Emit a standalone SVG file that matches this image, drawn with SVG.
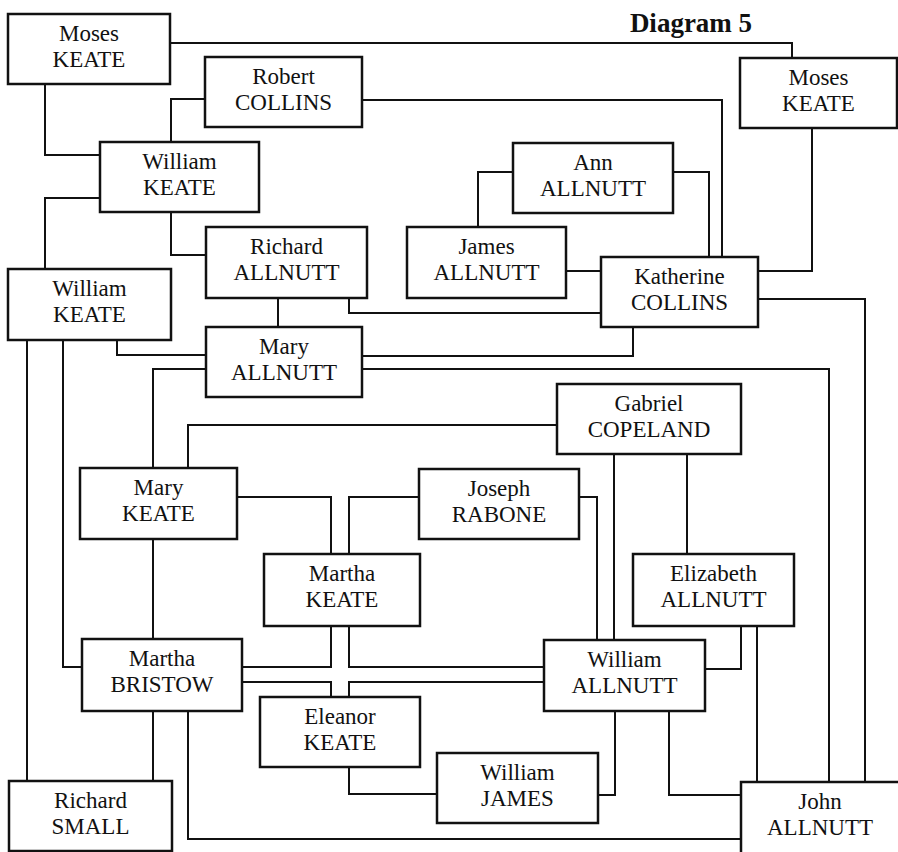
<svg xmlns="http://www.w3.org/2000/svg" width="898" height="852" viewBox="0 0 898 852">
<style>
.box{fill:#fff;stroke:#111;stroke-width:2.5}
.c{fill:none;stroke:#111;stroke-width:2}
text{font-family:"Liberation Serif","Times New Roman",serif;font-size:23px;fill:#111;text-anchor:middle}
.title{font-weight:bold;font-size:27px}
</style>
<rect width="898" height="852" fill="#fff"/>
<text class="title" x="691" y="32">Diagram 5</text>
<g id="connectors">
<polyline class="c" points="170,43 792,43 792,58"/>
<polyline class="c" points="45,84 45,155 100,155"/>
<polyline class="c" points="205,99 171,99 171,142"/>
<polyline class="c" points="362,100 722,100 722,257"/>
<polyline class="c" points="100,198 45,198 45,269"/>
<polyline class="c" points="171,212 171,255 206,255"/>
<polyline class="c" points="513,172 478,172 478,227"/>
<polyline class="c" points="673,172 709,172 709,257"/>
<polyline class="c" points="812,128 812,271 758,271"/>
<polyline class="c" points="566,271 601,271"/>
<polyline class="c" points="278,298 278,327"/>
<polyline class="c" points="349,298 349,313 601,313"/>
<polyline class="c" points="117,340 117,355 206,355"/>
<polyline class="c" points="362,356 633,356 633,327"/>
<polyline class="c" points="362,369 829,369 829,782"/>
<polyline class="c" points="206,369 153,369 153,468"/>
<polyline class="c" points="27,340 27,781"/>
<polyline class="c" points="63,340 63,667 82,667"/>
<polyline class="c" points="758,299 865,299 865,782"/>
<polyline class="c" points="557,425 188,425 188,468"/>
<polyline class="c" points="237,497 331,497 331,554"/>
<polyline class="c" points="419,497 349,497 349,554"/>
<polyline class="c" points="153,539 153,639"/>
<polyline class="c" points="331,626 331,667 242,667"/>
<polyline class="c" points="349,626 349,667 544,667"/>
<polyline class="c" points="242,682 331,682 331,697"/>
<polyline class="c" points="349,697 349,682 544,682"/>
<polyline class="c" points="579,497 597,497 597,640"/>
<polyline class="c" points="614,454 614,640"/>
<polyline class="c" points="687,454 687,554"/>
<polyline class="c" points="741,626 741,669 705,669"/>
<polyline class="c" points="757,626 757,782"/>
<polyline class="c" points="615,711 615,795 598,795"/>
<polyline class="c" points="669,711 669,795 741,795"/>
<polyline class="c" points="349,767 349,794 437,794"/>
<polyline class="c" points="153,711 153,781"/>
<polyline class="c" points="188,711 188,839 741,839"/>
</g>
<g id="moses-keate-1"><rect class="box" x="8" y="14" width="162" height="70"/><text x="89" y="41">Moses</text><text x="89" y="67">KEATE</text></g>
<g id="robert-collins"><rect class="box" x="205" y="57" width="157" height="70"/><text x="283.5" y="84">Robert</text><text x="283.5" y="110">COLLINS</text></g>
<g id="moses-keate-2"><rect class="box" x="740" y="58" width="157" height="70"/><text x="818.5" y="85">Moses</text><text x="818.5" y="111">KEATE</text></g>
<g id="william-keate-1"><rect class="box" x="100" y="142" width="159" height="70"/><text x="179.5" y="169">William</text><text x="179.5" y="195">KEATE</text></g>
<g id="ann-allnutt"><rect class="box" x="513" y="143" width="160" height="70"/><text x="593" y="170">Ann</text><text x="593" y="196">ALLNUTT</text></g>
<g id="richard-allnutt"><rect class="box" x="206" y="227" width="161" height="71"/><text x="286.5" y="254">Richard</text><text x="286.5" y="280">ALLNUTT</text></g>
<g id="james-allnutt"><rect class="box" x="407" y="227" width="159" height="71"/><text x="486.5" y="254">James</text><text x="486.5" y="280">ALLNUTT</text></g>
<g id="william-keate-2"><rect class="box" x="8" y="269" width="163" height="71"/><text x="89.5" y="296">William</text><text x="89.5" y="322">KEATE</text></g>
<g id="katherine-collins"><rect class="box" x="601" y="257" width="157" height="70"/><text x="679.5" y="284">Katherine</text><text x="679.5" y="310">COLLINS</text></g>
<g id="mary-allnutt"><rect class="box" x="206" y="327" width="156" height="70"/><text x="284" y="354">Mary</text><text x="284" y="380">ALLNUTT</text></g>
<g id="gabriel-copeland"><rect class="box" x="557" y="384" width="184" height="70"/><text x="649" y="411">Gabriel</text><text x="649" y="437">COPELAND</text></g>
<g id="mary-keate"><rect class="box" x="80" y="468" width="157" height="71"/><text x="158.5" y="495">Mary</text><text x="158.5" y="521">KEATE</text></g>
<g id="joseph-rabone"><rect class="box" x="419" y="469" width="160" height="70"/><text x="499" y="496">Joseph</text><text x="499" y="522">RABONE</text></g>
<g id="martha-keate"><rect class="box" x="264" y="554" width="156" height="72"/><text x="342" y="581">Martha</text><text x="342" y="607">KEATE</text></g>
<g id="elizabeth-allnutt"><rect class="box" x="633" y="554" width="161" height="72"/><text x="713.5" y="581">Elizabeth</text><text x="713.5" y="607">ALLNUTT</text></g>
<g id="martha-bristow"><rect class="box" x="82" y="639" width="160" height="72"/><text x="162" y="666">Martha</text><text x="162" y="692">BRISTOW</text></g>
<g id="william-allnutt"><rect class="box" x="544" y="640" width="161" height="71"/><text x="624.5" y="667">William</text><text x="624.5" y="693">ALLNUTT</text></g>
<g id="eleanor-keate"><rect class="box" x="260" y="697" width="160" height="70"/><text x="340" y="724">Eleanor</text><text x="340" y="750">KEATE</text></g>
<g id="william-james"><rect class="box" x="437" y="753" width="161" height="70"/><text x="517.5" y="780">William</text><text x="517.5" y="806">JAMES</text></g>
<g id="richard-small"><rect class="box" x="9" y="781" width="163" height="70"/><text x="90.5" y="808">Richard</text><text x="90.5" y="834">SMALL</text></g>
<g id="john-allnutt"><rect class="box" x="741" y="782" width="160" height="72"/><text x="820" y="809">John</text><text x="820" y="835">ALLNUTT</text></g>
</svg>
